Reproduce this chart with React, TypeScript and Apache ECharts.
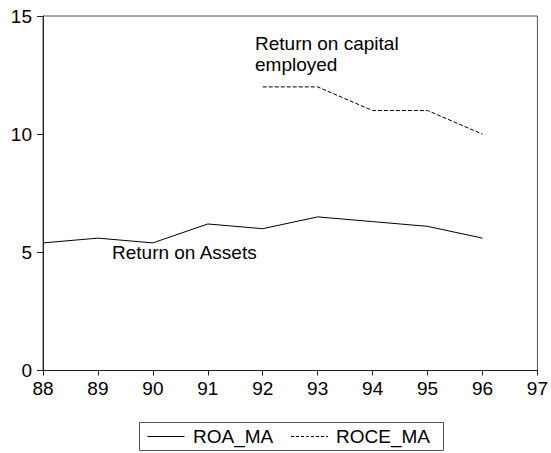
import React, { useEffect, useRef } from "react";
import * as echarts from "echarts";

const years = [88, 89, 90, 91, 92, 93, 94, 95, 96];
const roaMA = [5.4, 5.6, 5.4, 6.2, 6.0, 6.5, 6.3, 6.1, 5.6];
const roceMA: (number | null)[] = [null, null, null, null, 12, 12, 11, 11, 10];
const xTicks = { min: 88, max: 97, interval: 1 };
const yTicks = { min: 0, max: 15, interval: 5 };
const seriesNames = ["ROA_MA", "ROCE_MA"];

const FONT = "'Liberation Sans', Arial, sans-serif";

export default function App() {
  const ref = useRef<HTMLDivElement>(null);
  useEffect(() => {
    if (!ref.current) return;
    const chart = echarts.init(ref.current, undefined, { renderer: "svg" });
    chart.setOption({
      animation: false,
      backgroundColor: "#ffffff",
      textStyle: { fontFamily: FONT },
      grid: {
        left: 43,
        right: 11,
        top: 16,
        bottom: 82.5,
        show: true,
        borderColor: "#555",
        borderWidth: 1,
      },
      xAxis: {
        type: "value",
        min: xTicks.min,
        max: xTicks.max,
        interval: xTicks.interval,
        axisLine: { show: true, lineStyle: { color: "#222", width: 1 } },
        axisTick: { show: true, length: 5, lineStyle: { color: "#222" } },
        axisLabel: { color: "#000", fontSize: 19, margin: 8, fontFamily: FONT },
        splitLine: { show: false },
      },
      yAxis: {
        type: "value",
        min: yTicks.min,
        max: yTicks.max,
        interval: yTicks.interval,
        axisLine: { show: true, lineStyle: { color: "#222", width: 1 } },
        axisTick: { show: true, length: 6, lineStyle: { color: "#222" } },
        axisLabel: { color: "#000", fontSize: 19, margin: 11, fontFamily: FONT },
        splitLine: { show: false },
      },
      series: [
        {
          name: seriesNames[0],
          type: "line",
          data: years.map((y, i) => [y, roaMA[i]]),
          symbol: "none",
          lineStyle: { color: "#000", width: 1 },
        },
        {
          name: seriesNames[1],
          type: "line",
          data: years.map((y, i) => [y, roceMA[i]]),
          symbol: "none",
          lineStyle: { color: "#000", width: 1, type: [4, 2] },
        },
      ],
      graphic: [
        {
          type: "text",
          x: 255,
          y: 43.5,
          style: { text: "Return on capital", fontSize: 19, fontFamily: FONT, fill: "#000", verticalAlign: "middle", align: "left" },
        },
        {
          type: "text",
          x: 255,
          y: 64.5,
          style: { text: "employed", fontSize: 19, fontFamily: FONT, fill: "#000", verticalAlign: "middle", align: "left" },
        },
        {
          type: "text",
          x: 112,
          y: 252,
          style: { text: "Return on Assets", fontSize: 19, fontFamily: FONT, fill: "#000", verticalAlign: "middle", align: "left" },
        },
        {
          type: "rect",
          shape: { x: 139.5, y: 422.5, width: 304, height: 28 },
          style: { fill: "#fff", stroke: "#555", lineWidth: 1 },
        },
        {
          type: "line",
          shape: { x1: 147.5, y1: 436.5, x2: 184.5, y2: 436.5 },
          style: { stroke: "#000", lineWidth: 1 },
        },
        {
          type: "text",
          x: 193,
          y: 436.5,
          style: { text: seriesNames[0], fontSize: 19, fontFamily: FONT, fill: "#000", verticalAlign: "middle", align: "left" },
        },
        {
          type: "line",
          shape: { x1: 291, y1: 436.5, x2: 328, y2: 436.5 },
          style: { stroke: "#000", lineWidth: 1, lineDash: [3, 2] },
        },
        {
          type: "text",
          x: 336,
          y: 436.5,
          style: { text: seriesNames[1], fontSize: 19, fontFamily: FONT, fill: "#000", verticalAlign: "middle", align: "left" },
        },
      ],
    });
    return () => chart.dispose();
  }, []);
  return (
    <div
      ref={ref}
      style={{ position: "absolute", left: 0, top: 0, width: 551, height: 453 }}
    />
  );
}
